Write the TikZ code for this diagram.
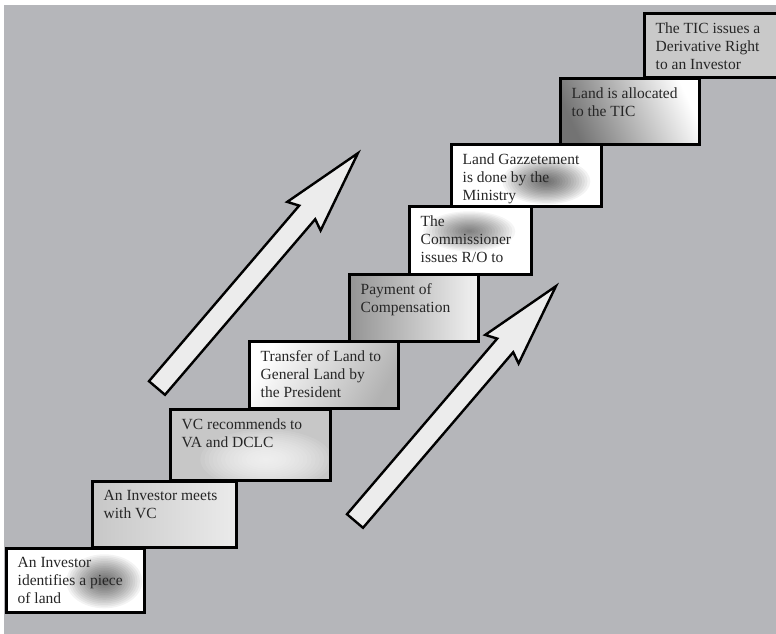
\documentclass[tikz,border=0pt]{standalone}
\usepackage{fontspec}
\setmainfont{Liberation Serif}
\definecolor{bgGray}{HTML}{B5B6BA}
\definecolor{arrowFill}{HTML}{ECECEC}
\usetikzlibrary{calc}

\begin{document}
\begin{tikzpicture}[x=1pt, y=-1pt,
		stepbox/.style={rectangle, draw=black, line width=2.6pt, anchor=north west, inner sep=0pt},
		steptext/.style={anchor=north west, inner sep=0pt, align=left, text=black!85, font=\fontsize{15.5}{18}\selectfont},
		blob/.style n args={5}{path picture={\foreach \k in {1,...,16} \fill[#1, opacity=#2] ([shift={#3}]path picture bounding box.north west) ellipse ({#4pt*\k/16} and {#5pt*\k/16});}},
		bigarrow/.pic={\draw[line width=2.4pt, fill=arrowFill] (-8,-6.8) -- (142.2,-182.4) -- (130.2,-186.1) -- (200.9,-234.8) -- (163.6,-157.5) -- (158.2,-168.8) -- (8,6.8) -- cycle;}]
		%-------------------------------------------------------------------------------
		% background
		%-------------------------------------------------------------------------------
		\useasboundingbox[fill=white] (0,0) rectangle (776,634);
		\fill[bgGray] (4,5) rectangle (776,634);
		
		% arrows
		\pic at (157,388) {bigarrow};
		\pic at (355,521) {bigarrow};
		
		% steps
		\node[stepbox, minimum width=138, minimum height=64, fill=white, blob={black}{0.046}{(98,33)}{38}{27}] (inv) 
			at (5,547) {};
		\node[stepbox, minimum width=144, minimum height=66, left color=black!22, right color=black!8] (meet) 
			at (91,480) {};
		\node[stepbox, minimum width=160, minimum height=71, fill=black!22, blob={white}{0.09}{(96,50)}{66}{30}] (rec) 
			at (169,408) {};
		\node[stepbox, minimum width=149, minimum height=67, top color=white, bottom color=black!30, shading angle=60] (trans) 
			at (248,340) {};
		\node[stepbox, minimum width=129, minimum height=67, left color=black!42, right color=black!5] (pay) 
			at (348,273) {};
		\node[stepbox, minimum width=122, minimum height=68, fill=white, blob={black}{0.04}{(60,25)}{46}{20}] (comm) 
			at (408,205) {};
		\node[stepbox, minimum width=150, minimum height=62, fill=white, blob={black}{0.046}{(95,37)}{44}{23}] (gaz) 
			at (450,143) {};
		\node[stepbox, minimum width=139, minimum height=66, top color=white, bottom color=black!55, shading angle=-65] (alloc) 
			at (559,77) {};
		\node[stepbox, minimum width=160, minimum height=64, fill=black!21] (deriv) 
			at (643,12) {};
		
		% labels
		\node[steptext] (invtxt) at ([shift={(12.5,10.5)}]inv.north west) {An Investor\\identifies a piece\\of land};
		\node[steptext] (meettxt) at ([shift={(12.5,10.5)}]meet.north west) {An Investor meets\\with VC};
		\node[steptext] (rectxt) at ([shift={(12.5,10.5)}]rec.north west) {VC recommends to\\VA and DCLC};
		\node[steptext] (transtxt) at ([shift={(12.5,10.5)}]trans.north west) {Transfer of Land to\\General Land by\\the President};
		\node[steptext] (paytxt) at ([shift={(12.5,10.5)}]pay.north west) {Payment of\\Compensation};
		\node[steptext] (commtxt) at ([shift={(12.5,10.5)}]comm.north west) {The\\Commissioner\\issues R/O to};
		\begin{scope}
			\clip ([shift={(1.3,1.3)}]gaz.north west) rectangle ([shift={(-1.3,-4.2)}]gaz.south east);
			\node[steptext] (gaztxt) at ([shift={(12.5,10.5)}]gaz.north west) {Land Gazzetement\\is done by the\\Ministry};
		\end{scope}
		\node[steptext] (alloctxt) at ([shift={(12.5,10.5)}]alloc.north west) {Land is allocated\\to the TIC};
		\node[steptext] (derivtxt) at ([shift={(12.5,10.5)}]deriv.north west) {The TIC issues a\\Derivative Right\\to an Investor};
\end{tikzpicture}
\end{document}
